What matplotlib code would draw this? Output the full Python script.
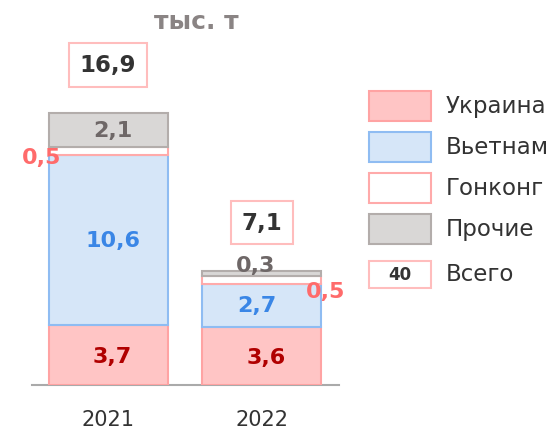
import matplotlib.pyplot as plt
from matplotlib.patches import Rectangle

# data
years = ['2021', '2022']
ukraine = [3.7, 3.6]
vietnam = [10.6, 2.7]
hongkong = [0.5, 0.5]
others = [2.1, 0.3]
totals = [16.9, 7.1]
series_names = ['Украина', 'Вьетнам', 'Гонконг', 'Прочие']
total_name = 'Всего'
legend_total_sample = '40'

series = [ukraine, vietnam, hongkong, others]
fills = ['#ffc5c5', '#d6e6f8', '#ffffff', '#d9d7d6']
edges = ['#ffa3a3', '#8fbcf2', '#ffaaaa', '#b3adab']
label_colors = ['#b00000', '#3a86e6', '#ff6b6b', '#6e6767']

# label nudges (dx, dy) in data units for thin segments
nudges = {
    (0, 0): (0.03, -0.05), (0, 1): (0.03, -0.05),
    (1, 0): (0.03, 0.0), (1, 1): (-0.03, 0.0),
    (2, 0): (-0.435, -0.35), (2, 1): (0.41, -0.69),
    (3, 0): (0.03, 0.0), (3, 1): (-0.04, 0.53),
}

plt.rcParams['font.family'] = ['DejaVu Sans']

fig = plt.figure(figsize=(5.57, 4.31), dpi=100)
ax = fig.add_axes([0.0575, 0.1044, 0.551, 0.75])

x = list(range(len(years)))
width = 0.773
bottom = [0.0] * len(years)
for si, vals in enumerate(series):
    ax.bar(x, vals, width=width, bottom=bottom, color=fills[si],
           edgecolor=edges[si], linewidth=1.5, zorder=3)
    for i, v in enumerate(vals):
        dx, dy = nudges.get((si, i), (0, 0))
        ax.text(x[i] + dx, bottom[i] + v / 2 + dy, f'{v:.1f}'.replace('.', ','),
                ha='center', va='center', fontsize=16, fontweight='bold',
                color=label_colors[si], zorder=5)
    bottom = [b + v for b, v in zip(bottom, vals)]

for i, t in enumerate(totals):
    ax.text(x[i], t + 3.0, f'{t:.1f}'.replace('.', ','), ha='center', va='center',
            fontsize=16.5, fontweight='bold', color='#333333',
            bbox=dict(boxstyle='square,pad=0.45', fc='white', ec='#ffbdbd', lw=1.5))

ax.set_xlim(-0.494, 1.5)
ax.set_ylim(0, 20.1)
for s in ['top', 'right', 'left']:
    ax.spines[s].set_visible(False)
ax.spines['bottom'].set_color('#aaaaaa')
ax.spines['bottom'].set_linewidth(1.5)
ax.set_yticks([])
ax.set_xticks(x)
ax.set_xticklabels(years, fontsize=15, color='#333333')
ax.tick_params(axis='x', length=0, pad=17)

fig.text(196 / 557, 1 - 22 / 431, 'тыс. т', ha='center', va='center',
         fontsize=18, fontweight='bold', color='#8a8484')

# legend drawn by hand
W, H = 557, 431
ys = [107, 148, 189, 230, 275]
for i, name in enumerate(series_names + [total_name]):
    yc = ys[i]
    if i < len(series_names):
        fc, ec, h = fills[i], edges[i], 30
    else:
        fc, ec, h = 'white', '#ffbdbd', 27
    fig.add_artist(Rectangle((369 / W, 1 - (yc + h / 2) / H), 62 / W, h / H,
                             transform=fig.transFigure, fc=fc, ec=ec, lw=1.5))
    if i == len(series_names):
        fig.text(400 / W, 1 - yc / H, legend_total_sample, ha='center', va='center',
                 fontsize=12, fontweight='bold', color='#333333')
    fig.text(446 / W, 1 - yc / H, name, ha='left', va='center',
             fontsize=16.5, color='#333333')

fig.savefig('out.png', dpi=100)
